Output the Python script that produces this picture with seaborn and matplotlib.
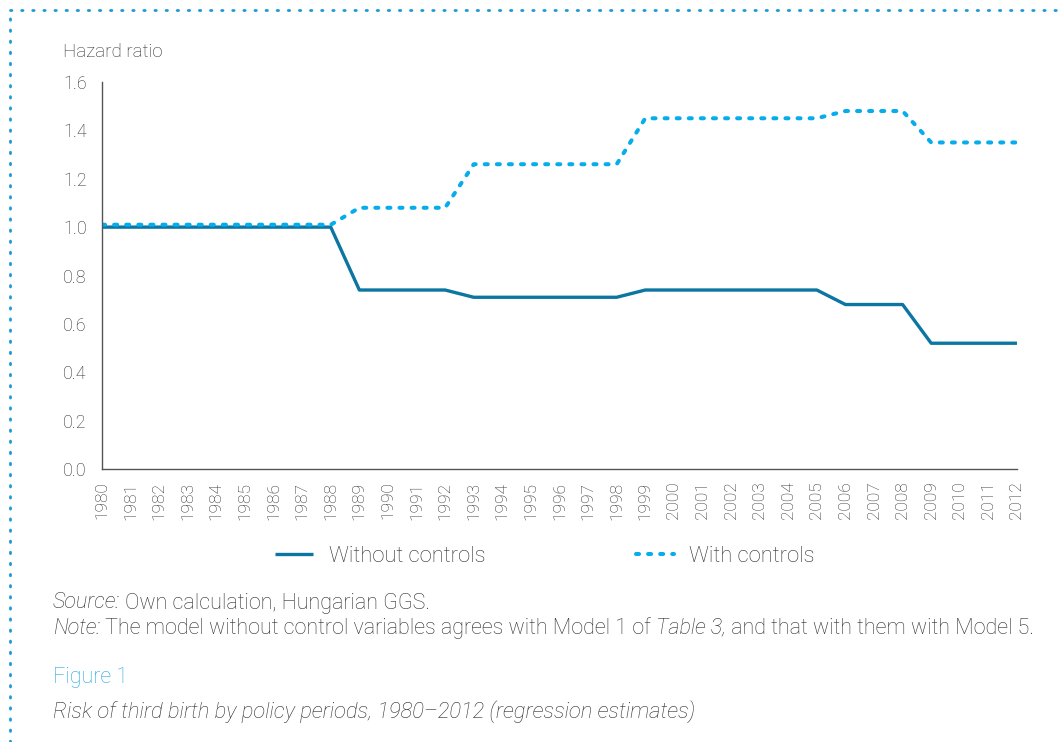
import pandas as pd
import numpy as np
import matplotlib.pyplot as plt
from matplotlib.lines import Line2D
import seaborn as sns

# Hazard ratios of the third birth by year
years = list(range(1980, 2013))
without_controls = [1.00] * 9 + [0.74] * 4 + [0.71] * 6 + [0.74] * 7 + [0.68] * 3 + [0.52] * 4
with_controls = [1.01] * 9 + [1.08] * 4 + [1.26] * 6 + [1.45] * 7 + [1.48] * 3 + [1.35] * 4
y_ticks = [0.0, 0.2, 0.4, 0.6, 0.8, 1.0, 1.2, 1.4, 1.6]

dark_blue = '#0b76a2'
light_blue = '#05adec'
txt = '#2e2e2e'

sns.set_style('white')
plt.rcParams['font.family'] = ['Roboto', 'DejaVu Sans']
plt.rcParams['font.weight'] = 'light'

df = pd.DataFrame({'year': years, 'without': without_controls, 'with': with_controls})

fig = plt.figure(figsize=(10.64, 7.42), dpi=100)
ax = fig.add_axes([0.0959, 0.3679, 0.8599, 0.5216])

sns.lineplot(data=df, x='year', y='without', ax=ax, color=dark_blue, lw=2.4,
             label='Without controls', solid_capstyle='butt')
sns.lineplot(data=df, x='year', y='with', ax=ax, color=light_blue, lw=2.9,
             label='With controls', linestyle=(0, (0.75, 2.25)),
             dash_capstyle='round')

ax.set_xlim(1980, 2012)
ax.set_ylim(0, 1.6)
ax.set_xticks(years)
ax.set_xticklabels([str(y) for y in years], rotation=90, fontsize=12.5, color=txt)
ax.set_yticks(y_ticks)
ax.set_yticklabels(['%.1f' % v for v in y_ticks], fontsize=13, color=txt)
ax.set_xlabel('')
ax.set_ylabel('')
for s in ['top', 'right']:
    ax.spines[s].set_visible(False)
for s in ['left', 'bottom']:
    ax.spines[s].set_color('#555555')
    ax.spines[s].set_linewidth(1.0)
ax.tick_params(axis='both', direction='out', length=5, width=1.0, color='#555555')
ax.tick_params(axis='y', pad=6)
ax.tick_params(axis='x', pad=4)

leg = ax.legend(loc='center', bbox_to_anchor=(0.484, -0.225), ncol=2, frameon=False,
                fontsize=15.8, handlelength=1.75, handletextpad=0.7, columnspacing=6.85)
for t in leg.get_texts():
    t.set_color(txt)

fig.text(63 / 1064, 1 - 52 / 742, 'Hazard ratio', fontsize=13.5, color=txt, va='center')

# source and note, mixed italic / upright runs
renderer = fig.canvas.get_renderer()


def run_line(x_px, y_px, parts, size=15.5):
    x = x_px / 1064
    for s, italic in parts:
        t = fig.text(x, 1 - y_px / 742, s, fontsize=size, color=txt, va='center',
                     style='italic' if italic else 'normal')
        bb = t.get_window_extent(renderer)
        x += bb.width / fig.bbox.width


run_line(53, 603, [('Source:', True), (' Own calculation, Hungarian GGS.', False)])
run_line(53, 628, [('Note:', True),
                   (' The model without control variables agrees with Model 1 of ', False),
                   ('Table 3,', True), (' and that with them with Model 5.', False)])

fig.text(53 / 1064, 1 - 678 / 742, 'Figure 1', fontsize=15.5, color='#27a8e0', va='center')
fig.text(53 / 1064, 1 - 712 / 742, 'Risk of third birth by policy periods, 1980\u20132012 (regression estimates)',
         fontsize=15.8, color=txt, va='center', style='italic')

# dotted frame
frame_kw = dict(color='#1a9ad6', lw=2, linestyle=(0, (0.5, 3.5)), dash_capstyle='round',
                transform=fig.transFigure)
fig.add_artist(Line2D([10 / 1064, 1.0], [1 - 10 / 742, 1 - 10 / 742], **frame_kw))
fig.add_artist(Line2D([10 / 1064, 10 / 1064], [0.0, 1 - 10 / 742], **frame_kw))

fig.savefig('out.png', dpi=100)
